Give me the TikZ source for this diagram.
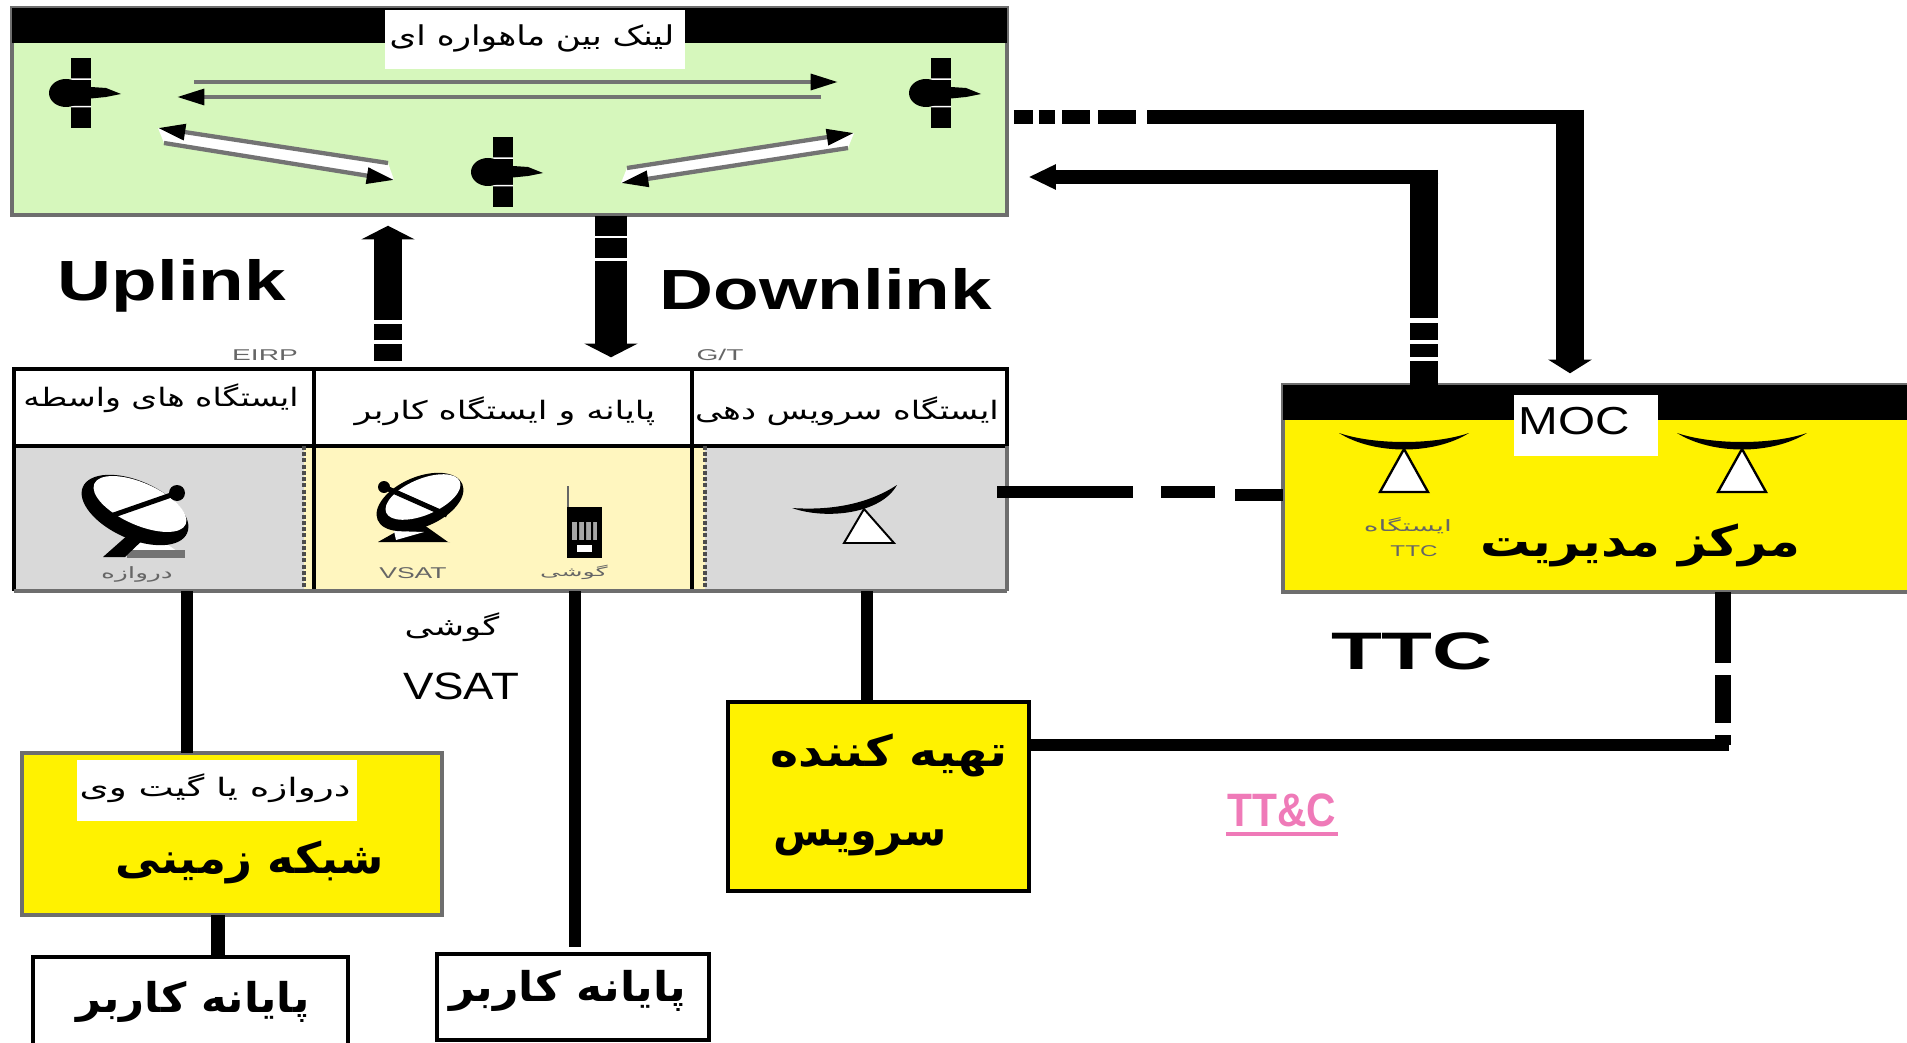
\documentclass[tikz,border=0pt]{standalone}
\usepackage{fontspec}
\setmainfont{Liberation Sans}
\newfontfamily\farsifont[Script=Arabic]{DejaVu Sans}
\TeXXeTstate=1
\usetikzlibrary{arrows.meta, positioning, calc}
\newcommand{\farsi}[1]{{\farsifont\beginR #1\endR}}
\newcommand{\fsize}[1]{\fontsize{#1}{#1}\selectfont}
\definecolor{linkgreen}{HTML}{D6F7BC}
\definecolor{boxyellow}{HTML}{FFF200}
\definecolor{cellyellow}{HTML}{FFF6BF}
\definecolor{cellgray}{HTML}{D9D9D9}
\definecolor{edgegray}{HTML}{6E6E6E}
\definecolor{ttcpink}{HTML}{EF7AB8}

\tikzset{
  dims/.style 2 args={minimum width=#1*0.18mm, minimum height=#2*0.18mm},
  box/.style={anchor=north west, inner sep=0pt, outer sep=0pt},
  blackbox/.style={box, draw=black, line width=2pt},
  graybox/.style={box, draw=edgegray, line width=2pt},
  beamh/.style={draw=black, line width=7pt},
  beamv/.style={draw=black, line width=14.5pt},
  wire/.style={draw=black, line width=6.5pt},
  tiny/.style={text=black!60, font=\fsize{8pt}},
  arrowup/.style={-{Triangle[length=7pt,width=27pt]}},
  linkarrow/.style={draw=black!55, line width=2.2pt,
    -{Triangle[length=14pt,width=8pt,color=black]}},
  satellite/.pic={
    \fill[black] (-10,-35) rectangle (10,35);
    \fill[white] (-10,-14.5) rectangle (10,-13) (-10,13) rectangle (10,14.5);
    \fill[black] (-15,0) ellipse [x radius=17, y radius=14];
    \fill[black] (-5,-7) -- (25,-5) -- (40,1) -- (25,4) -- (-5,7) -- cycle;
  },
  gatedish/.pic={
    \fill[white] (12,20) -- (46,44) -- (-5,44) -- cycle;
    \fill[black!55] (-8,40) rectangle (50,48);
    \fill[black] (3,16) -- (-32,47) -- (-10,47) -- (15,23) -- cycle;
    \fill[black] (0,0) ellipse [x radius=57, y radius=29, rotate=-24];
    \fill[white] (5,-6) ellipse [x radius=50, y radius=21, rotate=-24];
    \draw[black, line width=2.6pt] (-27,7) -- (42,-17);
    \fill[black] (42,-17) circle [radius=8];
  },
  vsatdish/.pic={
    \fill[black] (-3,8) -- (28,30) -- (30,30) -- (-42,30) -- cycle;
    \fill[white] (-26,19) -- (4,20) -- (-24,28) -- cycle;
    \fill[black] (0,-10) ellipse [x radius=46, y radius=25, rotate=23];
    \fill[white] (3,-15) ellipse [x radius=40, y radius=18, rotate=23];
    \draw[black, line width=2.6pt] (-36,-25) -- (27,3);
    \fill[black] (-36,-25) circle [radius=6];
  },
  sidedish/.pic={
    \draw[black, line width=1pt, fill=white] (13,-8) -- (-7,26) -- (43,26) -- cycle;
    \fill[black] (-59,-9) .. controls (-15,-6) and (20,-15) .. (46,-32)
      .. controls (30,-3) and (-25,3) .. (-59,-9);
  },
  topdish/.pic={
    \draw[black, line width=1.2pt, fill=white] (0,8) -- (-24,51) -- (24,51) -- cycle;
    \fill[black] (-65,-8) .. controls (-30,4) and (30,4) .. (65,-8)
      .. controls (30,14) and (-30,14) .. (-65,-8);
  },
  handset/.pic={
    \draw[black!60, line width=1pt] (-16,-36) -- (-16,-15);
    \fill[black] (-17,-15) rectangle (18,36);
    \fill[black!35] (-12,0) rectangle (13,18);
    \fill[black] (-7,0) rectangle (-5,18) (0,0) rectangle (2,18) (7,0) rectangle (9,18);
    \fill[white] (-7,23) rectangle (8,30);
  }
}

\begin{document}
\begin{tikzpicture}[x=0.18mm, y=-0.18mm]
\useasboundingbox (0,0) rectangle (1907,1043);

% ---- link box ---------------------------------------------------
\node[graybox, fill=linkgreen, dims={995}{207}] (linkbox) at (12,8) {};
\fill[black] (linkbox.north west) rectangle ($(linkbox.north east)+(0,35)$);
\node[box, fill=white, dims={300}{59}] (linklabel) at (385,10) {};
\node[font=\fsize{14pt}, xscale=1.25] (linktext) at (532,38) {\farsi{لینک بین ماهواره ای}};

\coordinate (satleft) at (81,93);
\coordinate (satright) at (941,93);
\coordinate (satmid) at (503,172);
\pic at (satleft) {satellite};
\pic at (satright) {satellite};
\pic at (satmid) {satellite};

\fill[white] ([shift={(-115,-9)}]satmid) -- ([shift={(-345,-44)}]satmid) -- ([shift={(-339,-29)}]satmid) -- ([shift={(-109,8)}]satmid) -- cycle;
\fill[white] ([shift={(124,-4)}]satmid) -- ([shift={(351,-39)}]satmid) -- ([shift={(345,-24)}]satmid) -- ([shift={(118,11)}]satmid) -- cycle;
\draw[linkarrow] ([shift={(113,-11)}]satleft) -- ([shift={(-103,-11)}]satright);
\draw[linkarrow] ([shift={(-120,4)}]satright) -- ([shift={(96,4)}]satleft);
\draw[linkarrow] ([shift={(-115,-9)}]satmid) -- ([shift={(-345,-44)}]satmid);
\draw[linkarrow] ([shift={(-339,-29)}]satmid) -- ([shift={(-109,8)}]satmid);
\draw[linkarrow] ([shift={(124,-4)}]satmid) -- ([shift={(351,-39)}]satmid);
\draw[linkarrow] ([shift={(345,-24)}]satmid) -- ([shift={(118,11)}]satmid);

% ---- three stations ---------------------------------------------
\node[box, fill=cellgray, dims={290}{145}] (cellgate) at (14,446) {};
\node[box, fill=cellyellow, dims={401}{145}] (cellvsat) at (304,446) {};
\node[box, fill=cellgray, dims={302}{145}] (cellsvc) at (705,446) {};
\node[blackbox, dims={300}{77}] (headgate) at (14,369) {};
\node[blackbox, dims={378}{77}] (headvsat) at (314,369) {};
\node[blackbox, dims={315}{77}] (headsvc) at (692,369) {};
\draw[black, line width=1.6pt] (headgate.south west) -- (cellgate.south west);
\draw[black, line width=2pt] (headvsat.south west) -- (headvsat.south west |- cellvsat.south);
\draw[black, line width=2pt] (headvsat.south east) -- (headvsat.south east |- cellvsat.south);
\draw[black!70, line width=1.6pt, dash pattern=on 2pt off 1.2pt] (cellgate.north east) -- (cellgate.south east);
\draw[black!70, line width=1.6pt, dash pattern=on 2pt off 1.2pt] (cellsvc.north west) -- (cellsvc.south west);
\draw[edgegray, line width=2.2pt] (cellgate.south west) -- (cellsvc.south east);
\draw[edgegray, line width=1.6pt] (headsvc.south east) -- (cellsvc.south east);

\node[font=\fsize{13pt}, xscale=1.3] (gatetext) at (161,398) {\farsi{ایستگاه های واسطه}};
\node[font=\fsize{13pt}, xscale=1.37] (vsattext) at (505,411) {\farsi{پایانه و ایستگاه کاربر}};
\node[font=\fsize{13pt}, xscale=1.33] (svctext) at (847,411) {\farsi{ایستگاه سرویس دهی}};

\pic at (135,510) {gatedish};
\pic at (420,512) {vsatdish};
\pic at (584,522) {handset};
\pic at (851,517) {sidedish};
\node[tiny, xscale=1.7] (gatecap) at (137,574) {\farsi{دروازه}};
\node[tiny, xscale=1.7] (vsatcap) at (413,573) {VSAT};
\node[tiny, font=\fsize{6.5pt}, xscale=2] (phonecap) at (574,572) {\farsi{گوشی}};
\node[tiny, xscale=1.8] (eirp) at (265,355) {EIRP};
\node[tiny, xscale=1.8] (gt) at (720,355) {G/T};

% ---- uplink and downlink ----------------------------------------
\coordinate (upfoot) at (388,361);
\coordinate (upmid) at (388,307);
\coordinate (downhead) at (611,216);
\coordinate (downmid) at (611,279);
\draw[beamv, arrowup, shorten >=5.5pt] (upmid) -- (upmid |- linkbox.south);
\draw[beamv, dash pattern=on 8.5pt off 2pt] (upfoot) -- (upmid);
\draw[beamv, line width=16pt, dash pattern=on 10pt off 1.5pt on 10pt off 1.5pt] (downhead) -- (downmid);
\draw[beamv, line width=16pt, arrowup, shorten >=6pt] (downmid) -- (downmid |- headvsat.north);

\node[font=\bfseries\fsize{29pt}, xscale=1.32] (uplink) at (172,286) {Uplink};
\node[font=\bfseries\fsize{29pt}, xscale=1.32] (downlink) at (826,289) {Downlink};

% ---- MOC box ----------------------------------------------------
\node[graybox, fill=boxyellow, dims={640}{207}] (mocbox) at (1283,385) {};
\fill[black] (mocbox.north west) rectangle ($(mocbox.north east)+(0,35)$);
\node[box, fill=white, dims={144}{61}] (moclabel) at (1514,395) {};
\node[font=\fsize{20pt}, xscale=1.22] (moctext) at (1574,421) {MOC};
\pic at (1404,441) {topdish};
\pic at (1742,441) {topdish};
\node[tiny, xscale=1.8] (ttcfarsi) at (1408,526) {\farsi{ایستگاه}};
\node[tiny, xscale=1.55] (ttcsmall) at (1414,551) {TTC};
\node[font=\bfseries\fsize{22pt}, xscale=1.16] (moctitle) at (1640,545) {\farsi{مرکز مدیریت}};
\node[font=\bfseries\fsize{27pt}, xscale=1.58] (ttcbig) at (1412,651) {TTC};

% ---- connectors on the right ------------------------------------
\coordinate (mocin) at (1570,117);
\coordinate (linkin) at (1424,177);
\draw[beamh, shorten <=3.5pt, dash pattern=on 9.7pt off 3pt on 8.2pt off 4pt on 14.3pt off 4pt on 19.4pt off 5.6pt on 300pt off 0pt] (linkbox.east |- mocin) -- ([xshift=7pt]mocin);
\draw[beamv, -{Triangle[length=7pt,width=22pt]}, shorten >=6pt] ([yshift=3.6pt]mocin) -- (mocin |- mocbox.north);
\draw[beamh, -{Triangle[length=14pt,width=12pt]}, shorten >=11pt] ([xshift=7.3pt]linkin) -- (linkbox.east |- linkin);
\draw[beamv] ([yshift=3.6pt]linkin) -- (1424,318);
\draw[beamv, dash pattern=on 8.7pt off 2.2pt on 6.6pt off 2.2pt on 12pt off 0pt] (1424,323) -- (linkin |- mocbox.north);

% ---- wires below the stations -----------------------------------
\node[graybox, fill=boxyellow, dims={420}{162}] (groundbox) at (22,753) {};
\node[box, fill=white, dims={280}{61}] (gatewaylabel) at (77,760) {};
\node[font=\fsize{13pt}, xscale=1.47] (gatewaytext) at (215,788) {\farsi{دروازه یا گیت وی}};
\node[font=\bfseries\fsize{22pt}, xscale=1.05] (groundtext) at (250,862) {\farsi{شبکه زمینی}};

\node[blackbox, fill=boxyellow, dims={301}{189}] (servicebox) at (728,702) {};
\node[font=\bfseries\fsize{22pt}, xscale=1.11] (servicea) at (889,755) {\farsi{تهیه کننده}};
\node[font=\bfseries\fsize{22pt}] (serviceb) at (860,843) {\farsi{سرویس}};

\node[blackbox, fill=white, dims={315}{115}] (userleft) at (33,957) {};
\node[font=\bfseries\fsize{21pt}, xscale=1.06] (userlefttext) at (193,1002) {\farsi{پایانه کاربر}};
\node[blackbox, fill=white, dims={272}{86}] (usermid) at (437,954) {};
\node[font=\bfseries\fsize{21pt}, xscale=1.08] (usermidtext) at (568,991) {\farsi{پایانه کاربر}};

\node[font=\fsize{13pt}, xscale=1.4] (phonetext) at (452,627) {\farsi{گوشی}};
\node[font=\fsize{19.5pt}, xscale=1.2] (vsattag) at (461,686) {VSAT};

\coordinate (groundfoot) at (218,958);
\coordinate (midend) at (575,947);
\coordinate (gatedrop) at (187,600);
\coordinate (svcdrop) at (867,600);
\draw[wire] (gatedrop |- cellgate.south) -- (gatedrop |- groundbox.north);
\draw[wire] (midend |- cellvsat.south) -- (midend);
\draw[wire] (svcdrop |- cellsvc.south) -- (svcdrop |- servicebox.north);
\draw[wire, line width=7pt] (groundfoot |- groundbox.south) -- (groundfoot |- userleft.north);

\coordinate (dropend) at (1723,745);
\draw[wire, line width=8pt] (mocbox.south -| dropend) -- (1723,663);
\draw[wire, line width=8pt] (1723,675) -- (1723,723);
\draw[wire, line width=8pt] (1723,735) -- (dropend);
\draw[wire] (servicebox.east |- dropend) -- (1729,745);

\coordinate (dishline) at (997,492);
\coordinate (dishlinelow) at (1235,495);
\draw[wire, line width=6pt] (dishline) -- (1133,492);
\draw[wire, line width=6pt] (1161,492) -- (1215,492);
\draw[wire, line width=6pt] (dishlinelow) -- (mocbox.west |- dishlinelow);

\node[text=ttcpink, font=\bfseries\fsize{24pt}, xscale=0.87, inner sep=0pt] (ttctext) at (1282,810) {TT\&C};
\draw[ttcpink, line width=2pt] (1226,834) -- (1338,834);
\end{tikzpicture}
\end{document}
